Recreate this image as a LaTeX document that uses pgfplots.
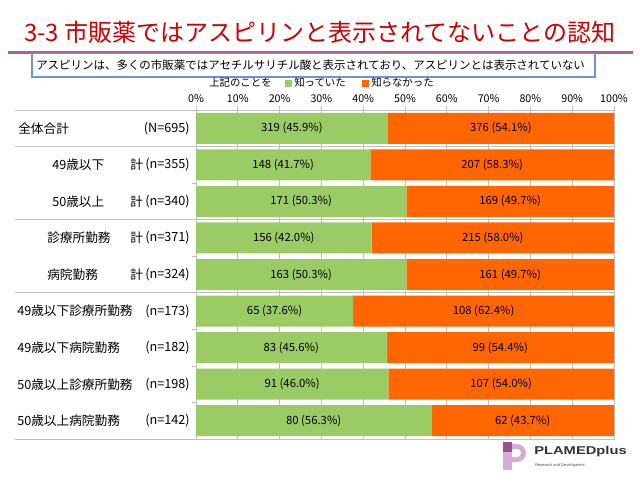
\documentclass[border=0pt]{standalone}
\usepackage{pgfplots}
\pgfplotsset{compat=1.18}
\usepackage{pgfplotstable}
\usepackage{fontspec}
\usepackage{graphicx}
\setmainfont{Noto Sans CJK JP}
\newfontfamily\logofont{Liberation Sans}

\definecolor{cgreen}{RGB}{155,203,100}
\definecolor{corange}{RGB}{255,102,0}
\definecolor{ctitle}{RGB}{204,0,0}
\definecolor{cpurple}{RGB}{160,100,160}
\definecolor{cbox}{RGB}{112,148,208}
\definecolor{cgrid}{RGB}{191,191,191}
\definecolor{clogo}{RGB}{214,172,214}
\definecolor{clogod}{RGB}{150,80,150}

\pgfplotstableread[col sep=comma]{
row,know,lab1,notknow,lab2
1,45.9,319 (45.9\%),54.1,376 (54.1\%)
2,41.7,148 (41.7\%),58.3,207 (58.3\%)
3,50.3,171 (50.3\%),49.7,169 (49.7\%)
4,42.0,156 (42.0\%),58.0,215 (58.0\%)
5,50.3,163 (50.3\%),49.7,161 (49.7\%)
6,37.6,65 (37.6\%),62.4,108 (62.4\%)
7,45.6,83 (45.6\%),54.4,99 (54.4\%)
8,46.0,91 (46.0\%),54.0,107 (54.0\%)
9,56.3,80 (56.3\%),43.7,62 (43.7\%)
}\data

\pgfplotsset{myframe/.style={
  at={(147pt,-329.25pt)}, anchor=south west,
  width=313.5pt, height=246.75pt, scale only axis,
  xmin=0, xmax=100, ymin=0.5, ymax=9.5, y dir=reverse,
}}

\begin{document}
\begin{tikzpicture}
\begin{axis}[
  myframe,
  xbar stacked, bar width=23.25pt,
  xtick={0,10,...,100},
  xticklabel={\pgfmathprintnumber{\tick}\%},
  xtick pos=upper, xticklabel pos=upper,
  ytick={0.5,1.5,...,9.5}, yticklabels={}, ytick pos=left,
  tick align=outside, major tick length=3pt,
  tick style={cgrid, line width=0.6pt},
  xmajorgrids, grid style={cgrid, line width=0.6pt},
  axis line style={cgrid, line width=0.6pt},
  /pgf/number format/assume math mode=true,
  x tick label style={font=\fontsize{8}{9}\selectfont, inner sep=1pt, yshift=1pt},
  clip=false,
]
\addplot[fill=cgreen, draw=none] table[x=know, y=row]{\data};
\addplot[fill=corange, draw=none] table[x=notknow, y=row]{\data};
\end{axis}
\begin{axis}[
  myframe, axis lines=none, clip=false,
  point meta=explicit symbolic,
  nodes near coords,
  every node near coord/.style={anchor=center, inner sep=0, font=\fontsize{8.5}{10}\selectfont, text=black},
]
\addplot[draw=none, mark=none] table[x expr=\thisrow{know}/2, y=row, meta=lab1]{\data};
\addplot[draw=none, mark=none] table[x expr=\thisrow{know}+\thisrow{notknow}/2, y=row, meta=lab2]{\data};
\end{axis}

\begin{scope}[x=0.75pt, y=-0.75pt]
\path[use as bounding box] (0,0) rectangle (640,480);
% title
\node[anchor=west, inner sep=0, text=ctitle, font=\fontsize{18}{20}\selectfont] at (24,32) {3-3 市販薬ではアスピリンと表示されてないことの認知};
\draw[cpurple, line width=2.25pt] (8,52) -- (633,52);
% box
\draw[cbox, line width=1pt, fill=white] (32,53.5) rectangle (595,77);
\node[anchor=west, inner sep=0, font=\fontsize{8.6}{10}\selectfont] at (36,65.5) {アスピリンは、多くの市販薬ではアセチルサリチル酸と表示されており、アスピリンとは表示されていない};
% legend
\node[anchor=west, inner sep=0, font=\fontsize{7.8}{9}\selectfont] at (209,83) {上記のことを};
\fill[cgreen] (285,79.5) rectangle (292,86.5);
\node[anchor=west, inner sep=0, font=\fontsize{7.8}{9}\selectfont] at (294,83) {知っていた};
\fill[corange] (362,79.5) rectangle (369,86.5);
\node[anchor=west, inner sep=0, font=\fontsize{7.8}{9}\selectfont] at (371,83) {知らなかった};
% separators
\draw[cgrid, line width=0.6pt] (15,110) -- (196,110);
\draw[cgrid, line width=0.6pt] (15,439) -- (196,439);
\draw[cgrid, line width=0.6pt] (15,146.6) -- (614,146.6);
\draw[cgrid, line width=0.6pt] (15,219.7) -- (614,219.7);
\draw[cgrid, line width=0.6pt] (15,292.8) -- (614,292.8);
% row labels
\begin{scope}[every node/.style={inner sep=0, font=\fontsize{9.5}{11}\selectfont}]
\node[anchor=west] at (18,128.3) {全体合計};
\node[anchor=east] at (190,128.3) {(N=695)};
\node[anchor=west] at (52,164.8) {49歳以下};
\node[anchor=west] at (130,164.8) {計};
\node[anchor=east] at (190,164.8) {(n=355)};
\node[anchor=west] at (52,201.4) {50歳以上};
\node[anchor=west] at (130,201.4) {計};
\node[anchor=east] at (190,201.4) {(n=340)};
\node[anchor=west] at (47,238.0) {診療所勤務};
\node[anchor=west] at (130,238.0) {計};
\node[anchor=east] at (190,238.0) {(n=371)};
\node[anchor=west] at (47,274.5) {病院勤務};
\node[anchor=west] at (130,274.5) {計};
\node[anchor=east] at (190,274.5) {(n=324)};
\node[anchor=west] at (17,311.1) {49歳以下診療所勤務};
\node[anchor=east] at (190,311.1) {(n=173)};
\node[anchor=west] at (17,347.7) {49歳以下病院勤務};
\node[anchor=east] at (190,347.7) {(n=182)};
\node[anchor=west] at (17,384.2) {50歳以上診療所勤務};
\node[anchor=east] at (190,384.2) {(n=198)};
\node[anchor=west] at (17,420.8) {50歳以上病院勤務};
\node[anchor=east] at (190,420.8) {(n=142)};
\end{scope}
% logo
\fill[clogo] (503,442) rectangle (512,470);
\fill[clogo] (512,444) -- (517,444) arc(-90:90:9) -- (512,462) -- cycle;
\fill[white] (512,449) -- (517,449) arc(-90:90:4) -- (512,457) -- cycle;
\fill[clogod] (503,442) rectangle (512,452);
\node[anchor=west, inner sep=0, text=black!80] at (534,452) {\logofont\bfseries\fontsize{8.5}{9}\selectfont\scalebox{1.3}[1]{PLAMEDplus}};
\node[anchor=west, inner sep=0, text=black!70] at (535,465) {\logofont\fontsize{3}{3}\selectfont Research and Development};
\end{scope}
\end{tikzpicture}
\end{document}
